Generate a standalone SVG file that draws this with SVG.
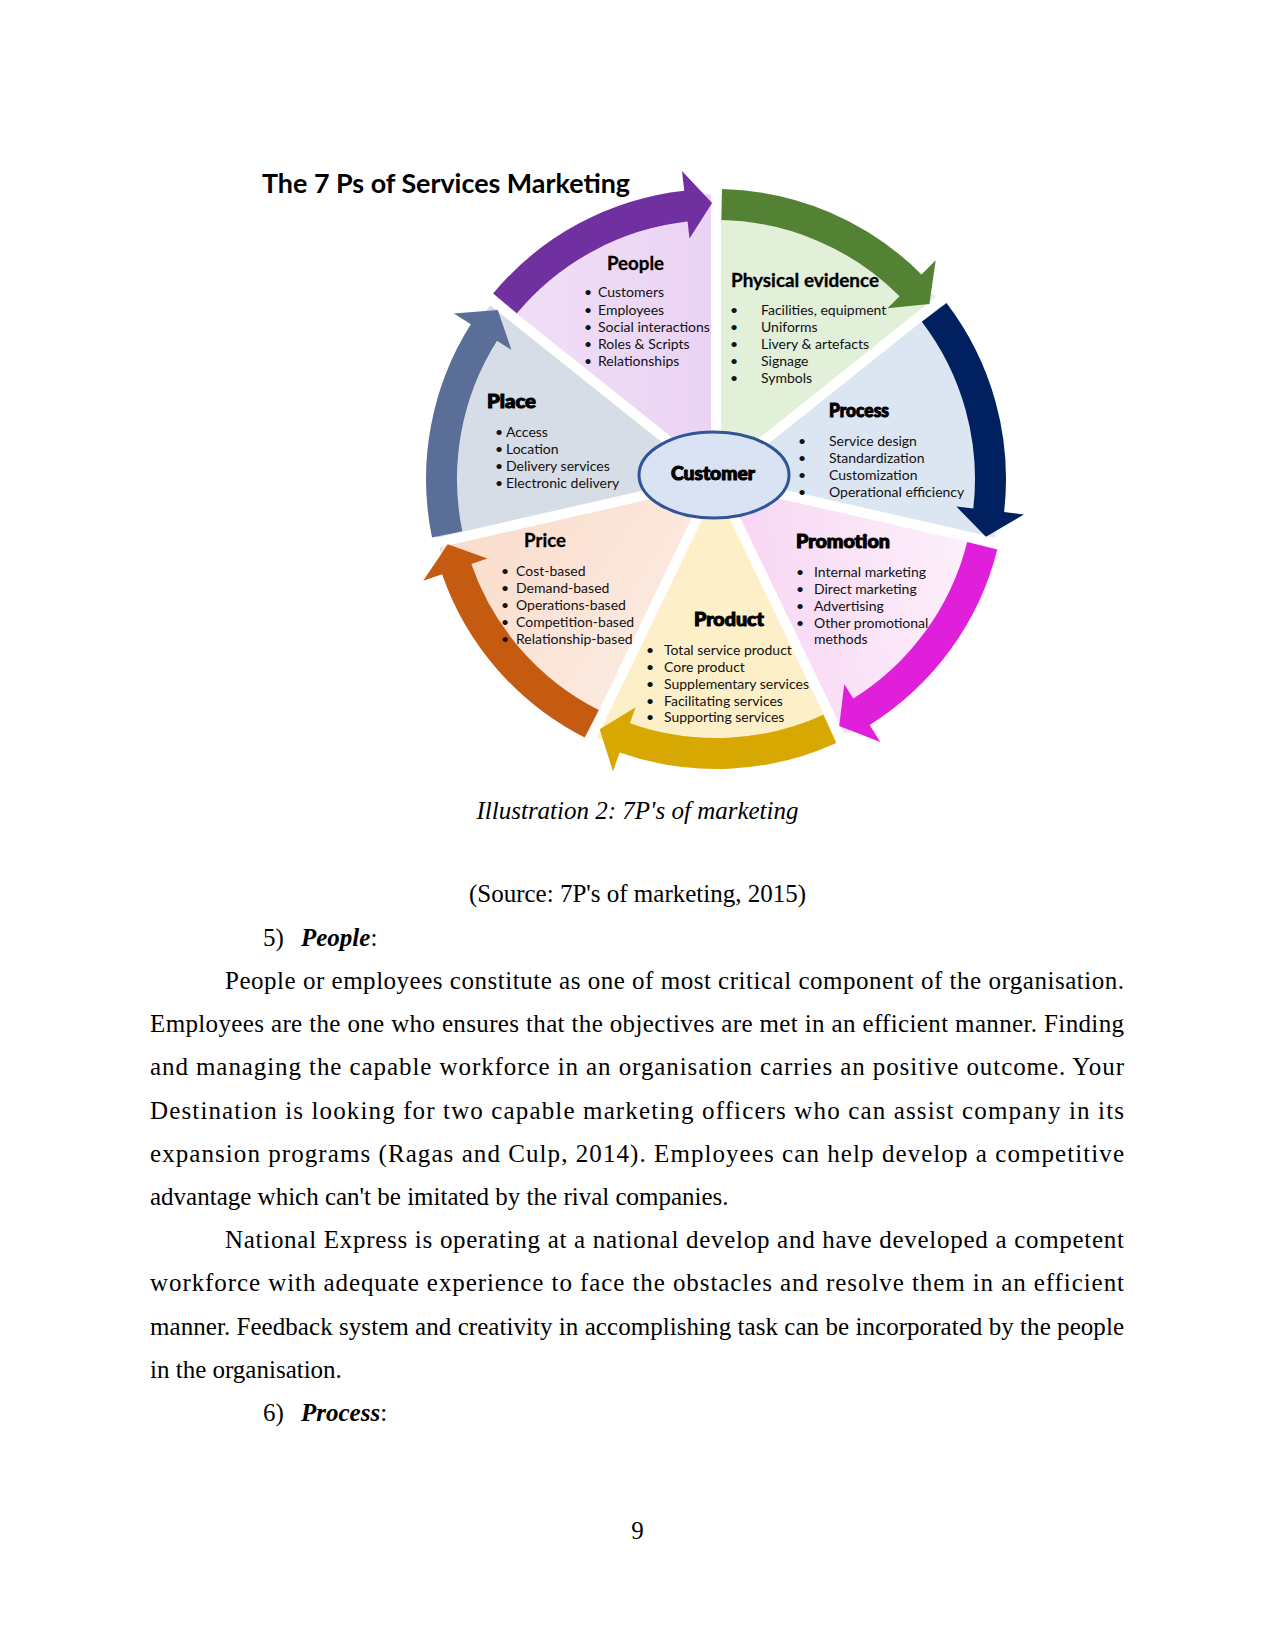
<svg xmlns="http://www.w3.org/2000/svg" width="1275" height="1650" viewBox="0 0 1275 1650">
<defs>
<style>
.h{font-family:Lato,"Open Sans","Liberation Sans",sans-serif;font-weight:900;font-size:18px;fill:#000;stroke:#000;stroke-width:1;paint-order:stroke}
.hb{font-family:Lato,"Open Sans","Liberation Sans",sans-serif;font-weight:700;font-size:18px;fill:#000;stroke:#000;stroke-width:0.3}
.li{font-family:Lato,"Open Sans","Liberation Sans",sans-serif;font-size:14px;fill:#111}
.title{font-family:Lato,"Open Sans","Liberation Sans",sans-serif;font-weight:700;font-size:27px;fill:#000}
.body{font-family:"Liberation Serif","Times New Roman",serif;font-size:25px;fill:#000}
.gap{stroke:#fff;stroke-width:10;stroke-linecap:butt}
</style>
<linearGradient id="gPromo" x1="716" y1="600" x2="1000" y2="560" gradientUnits="userSpaceOnUse">
<stop offset="0" stop-color="#F7D3F2"/><stop offset="1" stop-color="#FEF3FD"/>
</linearGradient>
<linearGradient id="gPrice" x1="450" y1="540" x2="680" y2="700" gradientUnits="userSpaceOnUse">
<stop offset="0" stop-color="#FADCCB"/><stop offset="1" stop-color="#FCEDE5"/>
</linearGradient>
<linearGradient id="gPeople" x1="500" y1="300" x2="716" y2="300" gradientUnits="userSpaceOnUse">
<stop offset="0" stop-color="#F1DFF6"/><stop offset="1" stop-color="#EAD3F3"/>
</linearGradient>
</defs>
<rect width="1275" height="1650" fill="#fff"/>

<text class="title" x="262" y="193" textLength="368" lengthAdjust="spacingAndGlyphs">The 7 Ps of Services Marketing</text>

<g id="sector-people">
<path d="M716,479 L493.2,301.3 A285,285 0 0 1 716,194 Z" fill="url(#gPeople)"/>
</g>
<g id="sector-physical-evidence">
<path d="M716,479 L716,194 A285,285 0 0 1 938.8,301.3 Z" fill="#E2EFD9"/>
</g>
<g id="sector-process">
<path d="M716,479 L938.8,301.3 A285,285 0 0 1 993.9,542.4 Z" fill="#DCE5F2"/>
</g>
<g id="sector-promotion">
<path d="M716,479 L993.9,542.4 A285,285 0 0 1 839.7,735.8 Z" fill="url(#gPromo)"/>
</g>
<g id="sector-product">
<path d="M716,479 L839.7,735.8 A285,285 0 0 1 592.3,735.8 Z" fill="#FDF0C9"/>
</g>
<g id="sector-price">
<path d="M716,479 L592.3,735.8 A285,285 0 0 1 438.1,542.4 Z" fill="url(#gPrice)"/>
</g>
<g id="sector-place">
<path d="M716,479 L438.1,542.4 A285,285 0 0 1 493.2,301.3 Z" fill="#D7DDE6"/>
</g>
<g id="gaps">
<line class="gap" x1="716" y1="479" x2="481.5" y2="292"/>
<line class="gap" x1="716" y1="479" x2="716" y2="179"/>
<line class="gap" x1="716" y1="479" x2="950.5" y2="292"/>
<line class="gap" x1="716" y1="479" x2="1008.5" y2="545.8"/>
<line class="gap" x1="716" y1="479" x2="846.2" y2="749.3"/>
<line class="gap" x1="716" y1="479" x2="585.8" y2="749.3"/>
<line class="gap" x1="716" y1="479" x2="423.5" y2="545.8"/>
</g>

<g id="connectors">
<path d="M493.1,293.5 A290,290 0 0 1 684.2,190.7 L682.0,170.9 L712.1,203.0 L689.5,238.5 L687.6,221.6 A259,259 0 0 0 516.9,313.3 Z" fill="#7030A0"/>
<path d="M722.1,189.1 A290,290 0 0 1 921.5,274.4 L935.7,260.3 L929.4,303.9 L887.5,308.3 L899.6,296.3 A259,259 0 0 0 721.4,220.1 Z" fill="#548235"/>
<path d="M946.5,303.0 A290,290 0 0 1 1004.1,512.1 L1024.0,514.4 L985.9,536.7 L956.4,506.6 L973.3,508.6 A259,259 0 0 0 921.8,321.8 Z" fill="#002060"/>
<path d="M997.3,549.4 A290,290 0 0 1 869.7,724.9 L880.3,741.9 L839.2,726.0 L844.3,684.2 L853.3,698.6 A259,259 0 0 0 967.2,541.9 Z" fill="#E01FDA"/>
<path d="M836.3,742.9 A290,290 0 0 1 619.6,752.5 L613.0,771.4 L599.7,729.3 L635.6,707.2 L629.9,723.3 A259,259 0 0 0 823.4,714.7 Z" fill="#D8A802"/>
<path d="M584.7,737.6 A290,290 0 0 1 442.1,574.2 L423.2,580.7 L447.8,544.2 L487.4,558.4 L471.3,564.0 A259,259 0 0 0 598.8,710.0 Z" fill="#C55A11"/>
<path d="M432.0,537.6 A290,290 0 0 1 470.8,324.2 L453.9,313.5 L497.8,310.0 L511.4,349.8 L497.0,340.7 A259,259 0 0 0 462.3,531.3 Z" fill="#5A6E98"/>
</g>

<g id="people">
<text class="hb" x="607" y="270" textLength="57" lengthAdjust="spacingAndGlyphs">People</text>
<text class="li"><tspan x="584" y="297">•</tspan><tspan x="598">Customers</tspan></text>
<text class="li"><tspan x="584" y="314.5">•</tspan><tspan x="598">Employees</tspan></text>
<text class="li"><tspan x="584" y="331.5">•</tspan><tspan x="598">Social interactions</tspan></text>
<text class="li"><tspan x="584" y="348.5">•</tspan><tspan x="598">Roles &amp; Scripts</tspan></text>
<text class="li"><tspan x="584" y="365.5">•</tspan><tspan x="598">Relationships</tspan></text>
</g>

<g id="physical-evidence">
<text class="hb" x="731" y="287" textLength="148" lengthAdjust="spacingAndGlyphs">Physical evidence</text>
<text class="li"><tspan x="730" y="315">•</tspan><tspan x="761">Facilities, equipment</tspan></text>
<text class="li"><tspan x="730" y="332">•</tspan><tspan x="761">Uniforms</tspan></text>
<text class="li"><tspan x="730" y="349">•</tspan><tspan x="761">Livery &amp; artefacts</tspan></text>
<text class="li"><tspan x="730" y="366">•</tspan><tspan x="761">Signage</tspan></text>
<text class="li"><tspan x="730" y="383">•</tspan><tspan x="761">Symbols</tspan></text>
</g>

<g id="process">
<text class="h" x="829" y="417" textLength="60" lengthAdjust="spacingAndGlyphs">Process</text>
<text class="li"><tspan x="798" y="446">•</tspan><tspan x="829">Service design</tspan></text>
<text class="li"><tspan x="798" y="463">•</tspan><tspan x="829">Standardization</tspan></text>
<text class="li"><tspan x="798" y="480">•</tspan><tspan x="829">Customization</tspan></text>
<text class="li"><tspan x="798" y="497">•</tspan><tspan x="829">Operational efficiency</tspan></text>
</g>

<g id="promotion">
<text class="h" x="796" y="548" textLength="94" lengthAdjust="spacingAndGlyphs">Promotion</text>
<text class="li"><tspan x="796" y="577">•</tspan><tspan x="814">Internal marketing</tspan></text>
<text class="li"><tspan x="796" y="594">•</tspan><tspan x="814">Direct marketing</tspan></text>
<text class="li"><tspan x="796" y="611">•</tspan><tspan x="814">Advertising</tspan></text>
<text class="li"><tspan x="796" y="628">•</tspan><tspan x="814">Other promotional</tspan></text>
<text class="li" x="814" y="644">methods</text>
</g>

<g id="product">
<text class="h" x="694" y="626" textLength="70" lengthAdjust="spacingAndGlyphs">Product</text>
<text class="li"><tspan x="646" y="655">•</tspan><tspan x="664">Total service product</tspan></text>
<text class="li"><tspan x="646" y="672">•</tspan><tspan x="664">Core product</tspan></text>
<text class="li"><tspan x="646" y="689">•</tspan><tspan x="664">Supplementary services</tspan></text>
<text class="li"><tspan x="646" y="706">•</tspan><tspan x="664">Facilitating services</tspan></text>
<text class="li"><tspan x="646" y="722">•</tspan><tspan x="664">Supporting services</tspan></text>
</g>

<g id="price">
<text class="hb" x="524" y="547" textLength="42" lengthAdjust="spacingAndGlyphs">Price</text>
<text class="li"><tspan x="501" y="576">•</tspan><tspan x="516">Cost-based</tspan></text>
<text class="li"><tspan x="501" y="593">•</tspan><tspan x="516">Demand-based</tspan></text>
<text class="li"><tspan x="501" y="610">•</tspan><tspan x="516">Operations-based</tspan></text>
<text class="li"><tspan x="501" y="627">•</tspan><tspan x="516">Competition-based</tspan></text>
<text class="li"><tspan x="501" y="644">•</tspan><tspan x="516">Relationship-based</tspan></text>
</g>

<g id="place">
<text class="h" x="487" y="408" textLength="49" lengthAdjust="spacingAndGlyphs">Place</text>
<text class="li"><tspan x="495" y="437">•</tspan><tspan x="506">Access</tspan></text>
<text class="li"><tspan x="495" y="454">•</tspan><tspan x="506">Location</tspan></text>
<text class="li"><tspan x="495" y="471">•</tspan><tspan x="506">Delivery services</tspan></text>
<text class="li"><tspan x="495" y="488">•</tspan><tspan x="506">Electronic delivery</tspan></text>
</g>

<g id="customer">
<ellipse cx="714" cy="475" rx="75" ry="43" fill="#DAE3F3" stroke="#2F5597" stroke-width="3"/>
<text class="h" x="671" y="480" textLength="84" lengthAdjust="spacingAndGlyphs">Customer</text>
</g>

<g id="page-text">
<text class="body" x="637.5" y="819" text-anchor="middle" font-style="italic">Illustration 2: 7P's of marketing</text>
<text class="body" x="637.5" y="902" text-anchor="middle">(Source: 7P's of marketing, 2015)</text>
<text class="body" x="263" y="946">5)<tspan x="301" font-weight="bold" font-style="italic">People</tspan>:</text>
<text class="body" x="225" y="989" textLength="899" lengthAdjust="spacing">People or employees constitute as one of most critical component of the organisation.</text>
<text class="body" x="150" y="1032" textLength="974" lengthAdjust="spacing">Employees are the one who ensures that the objectives are met in an efficient manner. Finding</text>
<text class="body" x="150" y="1075" textLength="974" lengthAdjust="spacing">and managing the capable workforce in an organisation carries an positive outcome. Your</text>
<text class="body" x="150" y="1119" textLength="974" lengthAdjust="spacing">Destination is looking for two capable marketing officers who can assist company in its</text>
<text class="body" x="150" y="1162" textLength="974" lengthAdjust="spacing">expansion programs (Ragas and Culp, 2014). Employees can help develop a competitive</text>
<text class="body" x="150" y="1205">advantage which can't be imitated by the rival companies.</text>
<text class="body" x="225" y="1248" textLength="899" lengthAdjust="spacing">National Express is operating at a national develop and have developed a competent</text>
<text class="body" x="150" y="1291" textLength="974" lengthAdjust="spacing">workforce with adequate experience to face the obstacles and resolve them in an efficient</text>
<text class="body" x="150" y="1335" textLength="974" lengthAdjust="spacing">manner. Feedback system and creativity in accomplishing task can be incorporated by the people</text>
<text class="body" x="150" y="1378">in the organisation.</text>
<text class="body" x="263" y="1421">6)<tspan x="301" font-weight="bold" font-style="italic">Process</tspan>:</text>
<text class="body" x="637.5" y="1539" text-anchor="middle">9</text>
</g>
</svg>
